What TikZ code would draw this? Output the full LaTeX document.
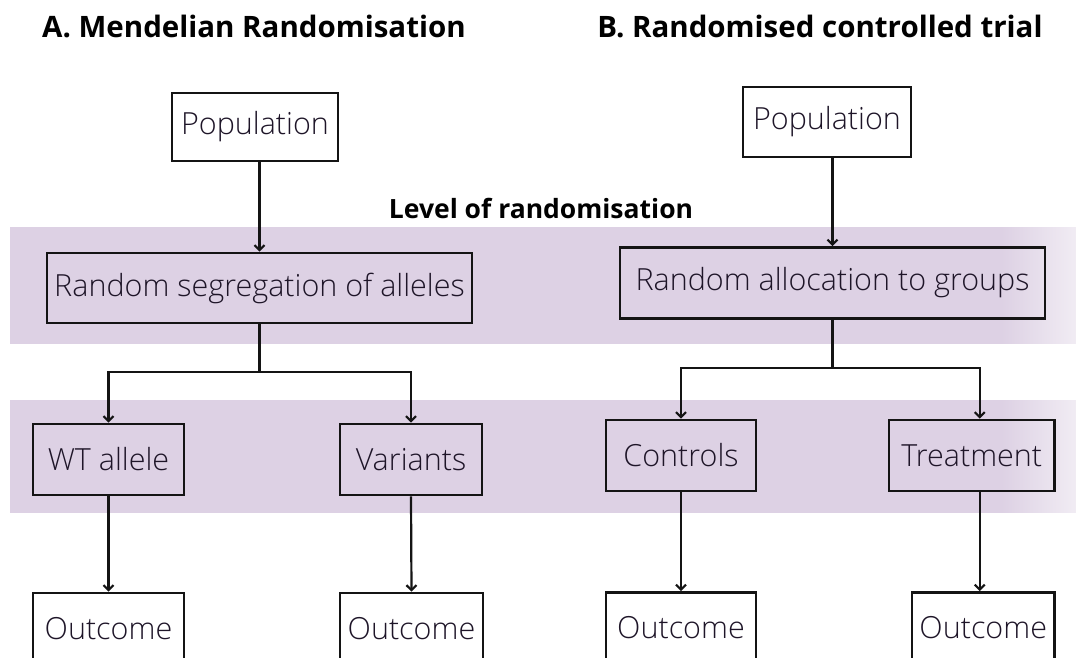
\documentclass[tikz,border=0pt]{standalone}
\usepackage{fontspec}
\setmainfont{Open Sans}
\newfontfamily\lightfont{Open Sans Light}
\usetikzlibrary{arrows.meta,calc,fadings}
\definecolor{band}{HTML}{DDD1E4}
\definecolor{ink}{HTML}{1E1528}
\begin{document}
\begin{tikzpicture}[x=1pt,y=-1pt,
  box/.style={draw=black!92, line width=2.6pt, inner sep=0pt, text=ink,
    font=\lightfont\fontsize{30.5}{35}\selectfont},
  conn/.style={line width=2.2pt, draw=black!92},
  arr/.style={conn, -{Straight Barb[length=5pt,width=10pt,line width=2.2pt]}},
  title/.style={font=\bfseries\fontsize{29.5}{34}\selectfont, anchor=base, inner sep=0pt}]
\useasboundingbox (0,0) rectangle (1076,657);
\clip (0,0) rectangle (1076,657);
% bands
\fill[band] (10,227) rectangle (1076,344);
\fill[band] (10,400) rectangle (1076,513);
\fill[white, opacity=0.6, path fading=west] (1000,220) rectangle (1076,520);
% titles
\node[title] (tA) at (254,37) {A. Mendelian Randomisation};
\node[title] (tB) at (820,37) {B. Randomised controlled trial};
\node[title, font=\bfseries\fontsize{26.5}{30}\selectfont] (lvl) at (541,218) {Level of randomisation};
% A
\node[box, minimum width=166pt, minimum height=68pt] (popA) at (255,127) {Population};
\node[box, minimum width=425pt, minimum height=70pt] (segA) at (259.5,288) {Random segregation of alleles};
\node[box, minimum width=151pt, minimum height=71pt] (wt) at (108.5,459.5) {WT allele};
\node[box, minimum width=142pt, minimum height=71pt] (var) at (411,459.5) {Variants};
\node[box, minimum width=151pt, minimum height=71pt] (outA1) at (108.5,628.5) {Outcome};
\node[box, minimum width=143pt, minimum height=71pt] (outA2) at (411.5,628.5) {Outcome};
% B
\node[box, minimum width=168pt, minimum height=70pt] (popB) at (827,122) {Population};
\node[box, minimum width=425pt, minimum height=71pt] (segB) at (832.5,283) {Random allocation to groups};
\node[box, minimum width=150pt, minimum height=71pt] (ctrl) at (681,455.5) {Controls};
\node[box, minimum width=165.5pt, minimum height=71pt] (treat) at (971.75,455.5) {Treatment};
\node[box, minimum width=150pt, minimum height=71pt] (outB1) at (681,628) {Outcome};
\node[box, minimum width=142.5pt, minimum height=71pt] (outB2) at (983.25,628) {Outcome};
% connectors A
\draw[arr] (popA.south -| segA.north) -- (segA.north);
\coordinate (jA) at ($(segA.south)+(0,48)$);
\draw[conn] (segA.south) -- (jA);
\draw[arr] (jA) -| (wt.north);
\draw[arr] (jA) -| (var.north);
\draw[arr] (wt.south) -- (outA1.north);
\draw[arr] (var.south) -- (outA2.north);
% connectors B
\draw[arr] (popB.south -| segB.north) -- (segB.north);
\coordinate (jB) at ($(segB.south)+(0,48)$);
\draw[conn] (segB.south) -- (jB);
\draw[arr] (jB) -| (ctrl.north);
\draw[arr] (jB) -| ([xshift=8pt]treat.north);
\draw[arr] (ctrl.south) -- (outB1.north);
\draw[arr] ([xshift=8pt]treat.south) -- ([xshift=8pt]treat.south |- outB2.north);
\end{tikzpicture}
\end{document}
